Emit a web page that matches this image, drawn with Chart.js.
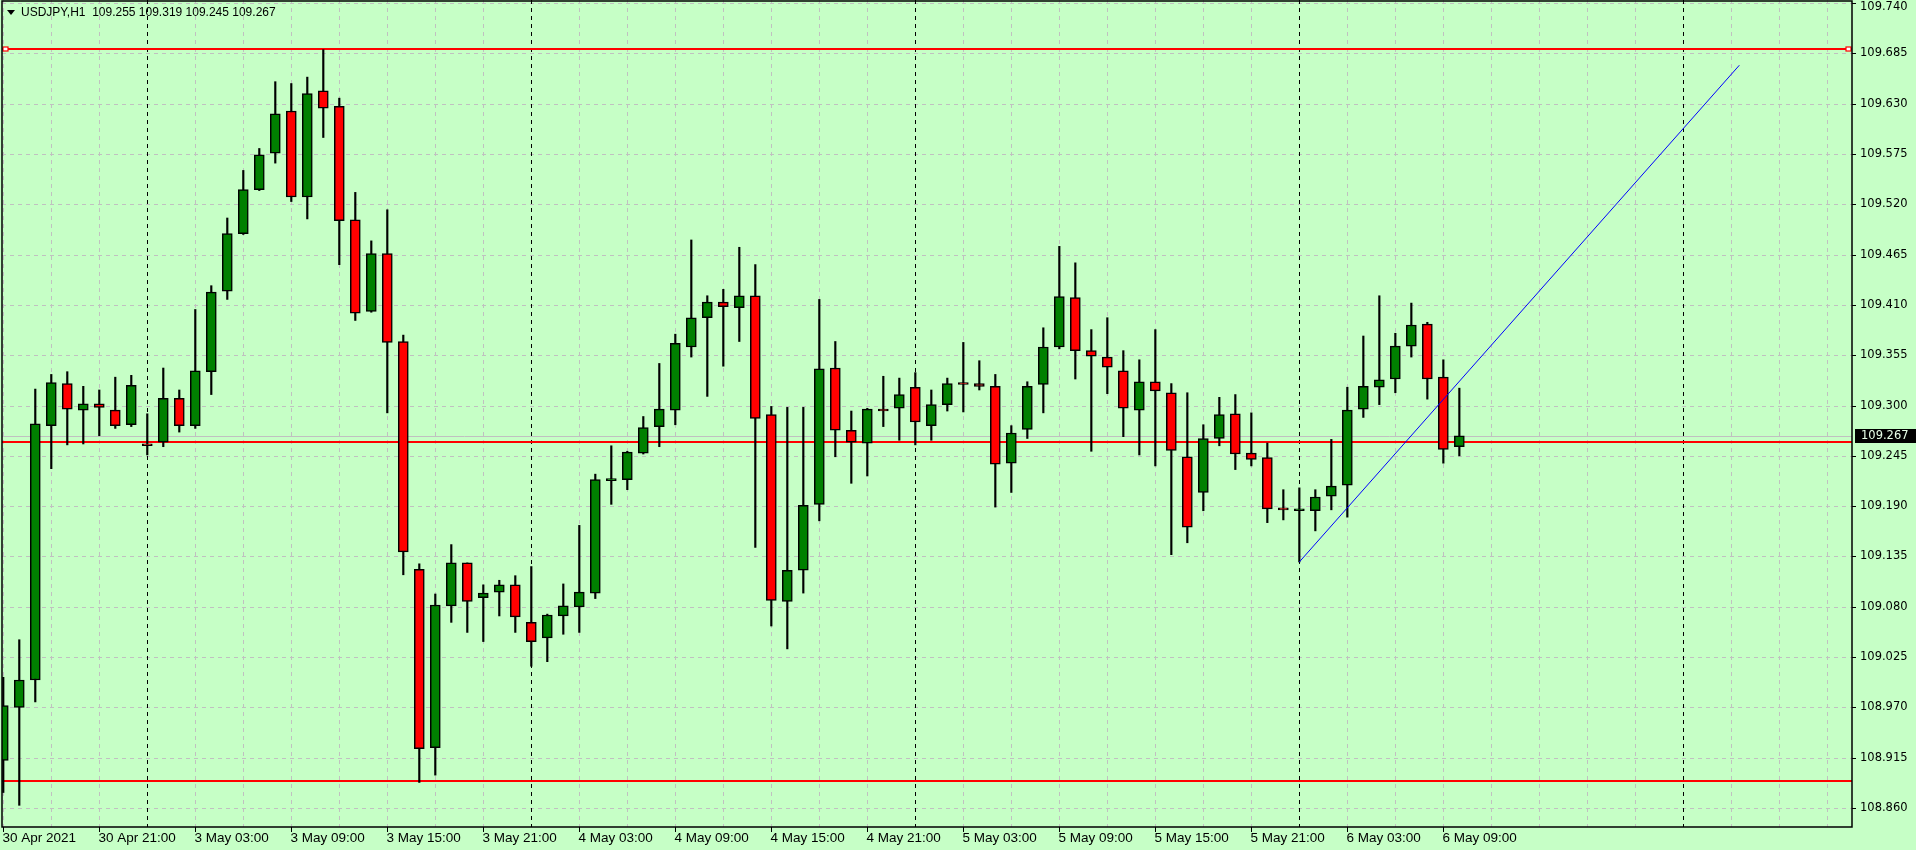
<!DOCTYPE html>
<html><head><meta charset="utf-8">
<script src="https://cdn.jsdelivr.net/npm/chart.js@4/dist/chart.umd.min.js"></script>
<style>html,body{margin:0;padding:0;background:#c6ffc6;}#wrap{width:1916px;height:850px;}</style>
</head><body><div id="wrap"><canvas id="c" width="1916" height="850"></canvas></div>
<script>
const opens  = [108.912,108.970,109.000,109.278,109.324,109.295,109.302,109.295,109.279,109.258,109.260,109.308,109.278,109.337,109.425,109.488,109.536,109.576,109.622,109.528,109.644,109.627,109.503,109.403,109.466,109.370,109.121,108.926,109.081,109.128,109.090,109.096,109.104,109.063,109.046,109.070,109.080,109.095,109.218,109.219,109.248,109.277,109.295,109.364,109.396,109.413,109.407,109.420,109.290,109.086,109.120,109.192,109.341,109.273,109.259,109.295,109.297,109.320,109.278,109.301,109.325,109.324,109.321,109.237,109.274,109.323,109.364,109.418,109.360,109.353,109.338,109.295,109.326,109.314,109.244,109.205,109.264,109.291,109.248,109.243,109.187,109.185,109.185,109.201,109.213,109.296,109.320,109.329,109.365,109.389,109.331,109.255];
const highs  = [109.003,109.044,109.318,109.334,109.337,109.321,109.317,109.331,109.333,109.291,109.341,109.317,109.405,109.431,109.505,109.557,109.581,109.654,109.652,109.659,109.689,109.636,109.533,109.480,109.514,109.377,109.127,109.094,109.148,109.128,109.104,109.109,109.114,109.124,109.072,109.105,109.169,109.225,109.256,109.250,109.288,109.346,109.378,109.481,109.420,109.427,109.473,109.454,109.299,109.298,109.298,109.416,109.370,109.294,109.297,109.332,109.330,109.336,109.317,109.330,109.369,109.349,109.334,109.278,109.326,109.385,109.474,109.456,109.383,109.396,109.360,109.350,109.383,109.324,109.314,109.279,109.309,109.312,109.292,109.259,109.208,109.210,109.208,109.263,109.320,109.376,109.420,109.379,109.412,109.391,109.350,109.319];
const lows   = [108.877,108.863,108.976,109.231,109.257,109.258,109.267,109.275,109.277,109.246,109.255,109.271,109.275,109.312,109.416,109.487,109.535,109.565,109.523,109.504,109.593,109.454,109.393,109.402,109.292,109.115,108.888,108.896,109.063,109.052,109.042,109.070,109.052,109.015,109.020,109.050,109.052,109.089,109.192,109.208,109.247,109.255,109.279,109.353,109.310,109.343,109.370,109.145,109.059,109.034,109.095,109.174,109.244,109.215,109.223,109.277,109.262,109.257,109.262,109.294,109.293,109.317,109.189,109.205,109.264,109.292,109.362,109.329,109.250,109.313,109.266,109.246,109.234,109.137,109.150,109.185,109.256,109.230,109.234,109.172,109.175,109.129,109.163,109.186,109.178,109.287,109.301,109.314,109.353,109.307,109.237,109.245];
const closes = [108.972,109.000,109.280,109.325,109.296,109.302,109.298,109.278,109.322,109.256,109.308,109.278,109.338,109.424,109.488,109.536,109.574,109.619,109.528,109.641,109.625,109.502,109.401,109.466,109.369,109.140,108.925,109.082,109.128,109.086,109.095,109.104,109.069,109.042,109.071,109.081,109.096,109.219,109.219,109.249,109.276,109.296,109.368,109.396,109.413,109.408,109.420,109.286,109.087,109.120,109.191,109.340,109.273,109.260,109.296,109.294,109.312,109.282,109.301,109.324,109.323,109.321,109.236,109.270,109.321,109.364,109.419,109.360,109.354,109.342,109.297,109.326,109.316,109.251,109.167,109.264,109.290,109.247,109.241,109.187,109.186,109.185,109.200,109.212,109.295,109.321,109.328,109.365,109.388,109.329,109.252,109.267];
const timeLabels = ["30 Apr 2021","30 Apr 21:00","3 May 03:00","3 May 09:00","3 May 15:00","3 May 21:00","4 May 03:00","4 May 09:00","4 May 15:00","4 May 21:00","5 May 03:00","5 May 09:00","5 May 15:00","5 May 21:00","6 May 03:00","6 May 09:00"];
const labelStep = 6;
const daySeparators = [9,33,57,81,105];
const priceTicks = [109.740,109.685,109.630,109.575,109.520,109.465,109.410,109.355,109.300,109.245,109.190,109.135,109.080,109.025,108.970,108.915,108.860];
const hLevels = [109.690,109.260,108.890];
const bidPrice = 109.267;
const trendX = [81,108.5];
const trendY = [109.129,109.672];
const title = "USDJPY,H1  109.255 109.319 109.245 109.267";

const idx = opens.map((_,i)=>i);
const bodies = idx.map(i=>({x:i,y:[opens[i],closes[i]]}));
const wicks = idx.map(i=>({x:i,y:[lows[i],highs[i]]}));
const bodyColors = idx.map(i=>closes[i]>=opens[i]?'#008000':'#ff0000');

const bgPlugin={id:'bg',
 beforeDatasetsDraw(ch){
  const c=ch.ctx,a=ch.chartArea,xs=ch.scales.x,ys=ch.scales.y;
  c.save();
  c.fillStyle='#c6ffc6';c.fillRect(0,0,1916,850);
  c.strokeStyle='#c0c0c0';c.lineWidth=1;c.setLineDash([4,4]);
  priceTicks.forEach(p=>{const y=Math.round(ys.getPixelForValue(p))+0.5;c.beginPath();c.moveTo(a.left,y);c.lineTo(a.right,y);c.stroke();});
  for(let k=0;k<=115;k+=3){if(daySeparators.includes(k))continue;const x=Math.round(xs.getPixelForValue(k))+0.5;c.beginPath();c.moveTo(x,a.top);c.lineTo(x,a.bottom);c.stroke();}
  c.strokeStyle='#000';c.setLineDash([4,4]);
  daySeparators.forEach(k=>{const x=Math.round(xs.getPixelForValue(k))+0.5;c.beginPath();c.moveTo(x,a.top);c.lineTo(x,a.bottom);c.stroke();});
  c.setLineDash([]);
  c.strokeStyle='#c0c0c0';const by=Math.round(ys.getPixelForValue(bidPrice))+0.5;c.beginPath();c.moveTo(a.left,by);c.lineTo(a.right,by);c.stroke();
  c.strokeStyle='#ff0000';c.lineWidth=2;
  hLevels.forEach((p,j)=>{const y=Math.round(ys.getPixelForValue(p));c.beginPath();c.moveTo(a.left,y);c.lineTo(a.right,y);c.stroke();
    if(j===0){c.lineWidth=1.2;c.fillStyle='#fff';[a.left+3,a.right-4].forEach(x=>{c.fillRect(x-2,y-2,5,4);c.strokeRect(x-2,y-2,5,4);});c.lineWidth=2;}});
  c.restore();
 },
 afterDraw(ch){
  const c=ch.ctx,a=ch.chartArea,xs=ch.scales.x,ys=ch.scales.y;
  c.save();
  c.strokeStyle='#000';c.lineWidth=1.5;
  c.beginPath();c.moveTo(2,1);c.lineTo(a.right,1);c.lineTo(a.right,a.bottom);c.lineTo(2,a.bottom);c.closePath();c.stroke();
  c.lineWidth=1;
  c.font='11.5px "DejaVu Sans"';c.fillStyle='#000';c.textBaseline='middle';c.textAlign='left';
  priceTicks.forEach(p=>{const y=Math.round(ys.getPixelForValue(p))+0.5;c.beginPath();c.moveTo(a.right,y);c.lineTo(a.right+4,y);c.stroke();c.fillText(p.toFixed(3),1860,Math.max(y,7));});
  const by=Math.round(ys.getPixelForValue(bidPrice));
  c.fillStyle='#000';c.fillRect(1855,by-7,63,14);c.fillStyle='#e8ffe8';c.fillText(bidPrice.toFixed(3),1861,by);
  c.fillStyle='#000';c.font='13.5px "Liberation Sans Narrow", "Liberation Sans"';c.textBaseline='middle';
  timeLabels.forEach((t,j)=>{const x=Math.round(xs.getPixelForValue(j*labelStep))+0.5;c.beginPath();c.moveTo(x,a.bottom);c.lineTo(x,a.bottom+5);c.stroke();c.fillText(t,x-1,838);});
  c.beginPath();c.moveTo(7,10);c.lineTo(15,10);c.lineTo(11,15);c.closePath();c.fill();
  c.font='12px "Liberation Sans"';c.fillText(title,21,13);
  c.restore();
 }};

new Chart(document.getElementById('c'),{
 data:{datasets:[
  {type:'line',data:trendX.map((x,i)=>({x,y:trendY[i]})),borderColor:'#0000ff',borderWidth:1,pointRadius:0,order:0},
  {type:'bar',data:bodies,backgroundColor:bodyColors,borderColor:'#000',borderWidth:1.5,borderSkipped:false,barThickness:10,minBarLength:2,grouped:false,order:1},
  {type:'bar',data:wicks,backgroundColor:'#000',borderWidth:0,barThickness:1.5,grouped:false,order:2}
 ]},
 options:{responsive:false,animation:false,
  layout:{padding:{left:2,right:64,top:0,bottom:23}},
  plugins:{legend:{display:false},tooltip:{enabled:false}},
  scales:{x:{type:'linear',min:-0.08,max:115.54,display:false,offset:false},
          y:{min:108.8393,max:109.7433,display:false}}
 },
 plugins:[bgPlugin]
});
</script></body></html>
